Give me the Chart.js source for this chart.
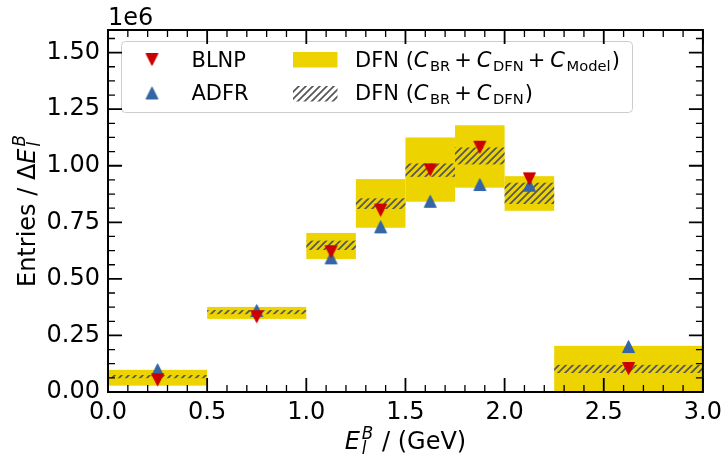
<!DOCTYPE html>
<html><head><meta charset="utf-8">
<script src="https://cdn.jsdelivr.net/npm/chart.js@4/dist/chart.umd.min.js"></script>
<style>html,body{margin:0;padding:0;background:#fff;}#wrap{width:728px;height:460px;}</style>
</head><body><div id="wrap"><canvas id="c" width="728" height="460"></canvas></div>
<script>
// ---- data (x in GeV, y in entries / GeV) ----
const binLow    = [0.0, 0.5, 1.0, 1.25, 1.5, 1.75, 2.0, 2.25];
const binHigh   = [0.5, 1.0, 1.25, 1.5, 1.75, 2.0, 2.25, 3.0];
const binCenter = [0.25, 0.75, 1.125, 1.375, 1.625, 1.875, 2.125, 2.625];
const blnp = [0.054e6, 0.333e6, 0.620e6, 0.804e6, 0.982e6, 1.082e6, 0.942e6, 0.104e6];
const adfr = [0.098e6, 0.360e6, 0.593e6, 0.730e6, 0.843e6, 0.917e6, 0.914e6, 0.201e6];
const dfnFullLow  = [0.028e6, 0.323e6, 0.588e6, 0.726e6, 0.841e6, 0.903e6, 0.801e6, 0.000e6];
const dfnFullHigh = [0.098e6, 0.376e6, 0.703e6, 0.941e6, 1.125e6, 1.179e6, 0.954e6, 0.204e6];
const dfnStatLow  = [0.061e6, 0.344e6, 0.628e6, 0.809e6, 0.951e6, 1.006e6, 0.831e6, 0.084e6];
const dfnStatHigh = [0.075e6, 0.362e6, 0.669e6, 0.856e6, 1.010e6, 1.081e6, 0.925e6, 0.120e6];
const xTicks = [0.0, 0.5, 1.0, 1.5, 2.0, 2.5, 3.0];
const yTicks = [0, 0.25e6, 0.5e6, 0.75e6, 1.0e6, 1.25e6, 1.5e6];
const xMinorStep = 0.1, yMinorStep = 0.0625e6;

const RED = '#cc0000', BLUE = '#3465a4', YELLOW = '#edd400', HATCH = '#555555';
const FONT = '"DejaVu Sans"';
const F = (s, it) => (it ? 'italic ' : '') + s + 'px ' + FONT;

function triImg(color, down) {
  const c = document.createElement('canvas'); c.width = 15; c.height = 15;
  const g = c.getContext('2d');
  g.fillStyle = color; g.strokeStyle = color; g.lineWidth = 1; g.lineJoin = 'miter';
  g.beginPath();
  if (down) { g.moveTo(1.5, 1.5); g.lineTo(13.5, 1.5); g.lineTo(7.5, 13.5); }
  else { g.moveTo(1.5, 13.5); g.lineTo(13.5, 13.5); g.lineTo(7.5, 1.5); }
  g.closePath(); g.fill(); g.stroke();
  return c;
}
const downTri = triImg(RED, true), upTri = triImg(BLUE, false);

function hatchPattern(ctx) {
  const s = 7; const c = document.createElement('canvas'); c.width = s; c.height = s;
  const g = c.getContext('2d');
  g.strokeStyle = HATCH; g.lineWidth = 1.7;
  g.beginPath();
  g.moveTo(0, s); g.lineTo(s, 0);
  g.moveTo(-s, s); g.lineTo(s, -s);
  g.moveTo(0, 2 * s); g.lineTo(2 * s, 0);
  g.stroke();
  return ctx.createPattern(c, 'repeat');
}

function rich(ctx, x, y, parts, align) {
  let w = 0, pos = 0, starts = [];
  for (const p of parts) {
    ctx.font = p.f;
    const tw = ctx.measureText(p.t).width;
    if (p.over) { const s = starts[starts.length - 1]; p._x = s; pos = Math.max(pos, s + tw); }
    else { pos += (p.g || 0); p._x = pos; starts.push(pos); pos += tw; }
  }
  w = pos;
  const x0 = align === 'center' ? x - w / 2 : x;
  ctx.textBaseline = 'alphabetic'; ctx.textAlign = 'left';
  for (const p of parts) { ctx.font = p.f; ctx.fillText(p.t, x0 + p._x, y + (p.dy || 0)); }
}

const plug = {
  id: 'hep',
  beforeDatasetsDraw(chart) {
    const { ctx, chartArea: a, scales: { x, y } } = chart;
    ctx.save();
    ctx.beginPath(); ctx.rect(a.left, a.top, a.right - a.left, a.bottom - a.top); ctx.clip();
    ctx.fillStyle = YELLOW;
    for (let i = 0; i < binLow.length; i++) {
      const x0 = x.getPixelForValue(binLow[i]), x1 = x.getPixelForValue(binHigh[i]);
      const y0 = y.getPixelForValue(dfnFullHigh[i]), y1 = y.getPixelForValue(dfnFullLow[i]);
      ctx.fillRect(x0, y0, x1 - x0, y1 - y0);
    }
    ctx.fillStyle = hatchPattern(ctx);
    for (let i = 0; i < binLow.length; i++) {
      const x0 = x.getPixelForValue(binLow[i]), x1 = x.getPixelForValue(binHigh[i]);
      const y0 = y.getPixelForValue(dfnStatHigh[i]), y1 = y.getPixelForValue(dfnStatLow[i]);
      ctx.fillRect(x0, y0, x1 - x0, y1 - y0);
    }
    ctx.restore();
  },
  afterDatasetsDraw(chart) {
    const { ctx, chartArea: a, scales: { x, y } } = chart;
    ctx.save();
    // legend
    const lx = a.left + 13.5, ly = a.top + 11.5, lw = 511, lh = 71;
    ctx.beginPath(); ctx.roundRect(lx, ly, lw, lh, 4);
    ctx.fillStyle = 'rgba(255,255,255,0.8)'; ctx.fill();
    ctx.strokeStyle = '#cccccc'; ctx.lineWidth = 1; ctx.stroke();
    ctx.drawImage(downTri, lx + 30.5 - 7.5, ly + 18 - 7.5);
    ctx.drawImage(upTri, lx + 30.5 - 7.5, ly + 51.5 - 7.5);
    ctx.fillStyle = '#000';
    ctx.font = F(21); ctx.textBaseline = 'alphabetic';
    ctx.fillText('BLNP', lx + 70, ly + 25.5);
    ctx.fillText('ADFR', lx + 70, ly + 58.5);
    ctx.fillStyle = YELLOW; ctx.fillRect(lx + 171.5, ly + 10.5, 44.5, 15.5);
    ctx.fillStyle = hatchPattern(ctx); ctx.fillRect(lx + 171.5, ly + 44.5, 44.5, 15.5);
    ctx.fillStyle = '#000';
    const sub = (t) => ({ t, f: F(14.7), dy: 3.5, g: 1.5 });
    rich(ctx, lx + 233.5, ly + 25.5, [
      { t: 'DFN (', f: F(21) }, { t: 'C', f: F(21, true) }, sub('BR'),
      { t: '+', f: F(21), g: 4 }, { t: 'C', f: F(21, true), g: 5 }, sub('DFN'),
      { t: '+', f: F(21), g: 4 }, { t: 'C', f: F(21, true), g: 5 }, sub('Model'),
      { t: ')', f: F(21), g: 1 }
    ]);
    rich(ctx, lx + 233.5, ly + 58.5, [
      { t: 'DFN (', f: F(21) }, { t: 'C', f: F(21, true) }, sub('BR'),
      { t: '+', f: F(21), g: 4 }, { t: 'C', f: F(21, true), g: 5 }, sub('DFN'),
      { t: ')', f: F(21), g: 1 }
    ]);
    // frame + inward ticks on all sides
    ctx.strokeStyle = '#000';
    const tick = (px, len, w, horiz) => {
      ctx.lineWidth = w; ctx.beginPath();
      if (horiz) {
        ctx.moveTo(px, a.bottom); ctx.lineTo(px, a.bottom - len);
        ctx.moveTo(px, a.top); ctx.lineTo(px, a.top + len);
      } else {
        ctx.moveTo(a.left, px); ctx.lineTo(a.left + len, px);
        ctx.moveTo(a.right, px); ctx.lineTo(a.right - len, px);
      }
      ctx.stroke();
    };
    for (let k = 1; k * xMinorStep < x.max - 1e-9; k++) {
      const v = k * xMinorStep;
      if (xTicks.some(t => Math.abs(t - v) < 1e-9)) continue;
      tick(x.getPixelForValue(v), 7, 1.3, true);
    }
    for (const v of xTicks) tick(x.getPixelForValue(v), 14, 1.8, true);
    for (let k = 1; k * yMinorStep < y.max - 1; k++) {
      const v = k * yMinorStep;
      if (yTicks.some(t => Math.abs(t - v) < 1)) continue;
      tick(y.getPixelForValue(v), 7, 1.3, false);
    }
    for (const v of yTicks) tick(y.getPixelForValue(v), 14, 1.8, false);
    ctx.lineWidth = 2;
    ctx.strokeRect(a.left, a.top, a.right - a.left, a.bottom - a.top);
    // offset text
    ctx.fillStyle = '#000'; ctx.font = F(24); ctx.textAlign = 'left'; ctx.textBaseline = 'alphabetic';
    ctx.fillText('1e6', a.left, a.top - 5);
    // axis titles
    rich(ctx, (a.left + a.right) / 2, 449, [
      { t: 'E', f: F(24, true) }, { t: 'l', f: F(16.8, true), dy: 5, g: 2 }, { t: 'B', f: F(16.8, true), dy: -10, over: true },
      { t: ' / (GeV)', f: F(24), g: 1 }
    ], 'center');
    ctx.save();
    ctx.translate(35, (a.top + a.bottom) / 2);
    ctx.rotate(-Math.PI / 2);
    rich(ctx, 0, 0, [
      { t: 'Entries / Δ', f: F(24) }, { t: 'E', f: F(24, true) },
      { t: 'l', f: F(16.8, true), dy: 5, g: 2 }, { t: 'B', f: F(16.8, true), dy: -10, over: true }
    ], 'center');
    ctx.restore();
    ctx.restore();
  }
};

const tickFont = { family: 'DejaVu Sans', size: 24 };
new Chart(document.getElementById('c'), {
  type: 'scatter',
  data: {
    datasets: [
      { label: 'BLNP', data: binCenter.map((v, i) => ({ x: v, y: blnp[i] })), pointStyle: downTri, pointRadius: 7, backgroundColor: RED, borderColor: RED },
      { label: 'ADFR', data: binCenter.map((v, i) => ({ x: v, y: adfr[i] })), pointStyle: upTri, pointRadius: 7, backgroundColor: BLUE, borderColor: BLUE }
    ]
  },
  options: {
    responsive: false, animation: false, devicePixelRatio: 1,
    layout: { padding: { top: 30, right: 21, left: 0, bottom: 0 } },
    plugins: { legend: { display: false }, tooltip: { enabled: false } },
    scales: {
      x: {
        type: 'linear', min: 0, max: 3,
        afterBuildTicks: s => { s.ticks = xTicks.map(v => ({ value: v })); },
        ticks: { font: tickFont, color: '#000', padding: 6, maxRotation: 0, autoSkip: false, callback: v => v.toFixed(1) },
        grid: { display: false, drawTicks: false }, border: { display: false },
        afterFit: s => { s.height = 68; }
      },
      y: {
        type: 'linear', min: 0, max: 1.6e6,
        afterBuildTicks: s => { s.ticks = yTicks.map(v => ({ value: v })); },
        ticks: { font: tickFont, color: '#000', padding: 8, autoSkip: false, callback: v => (v / 1e6).toFixed(2) },
        grid: { display: false, drawTicks: false }, border: { display: false },
        afterFit: s => { s.height; s.width = 108; }
      }
    }
  },
  plugins: [plug]
});
</script></body></html>
